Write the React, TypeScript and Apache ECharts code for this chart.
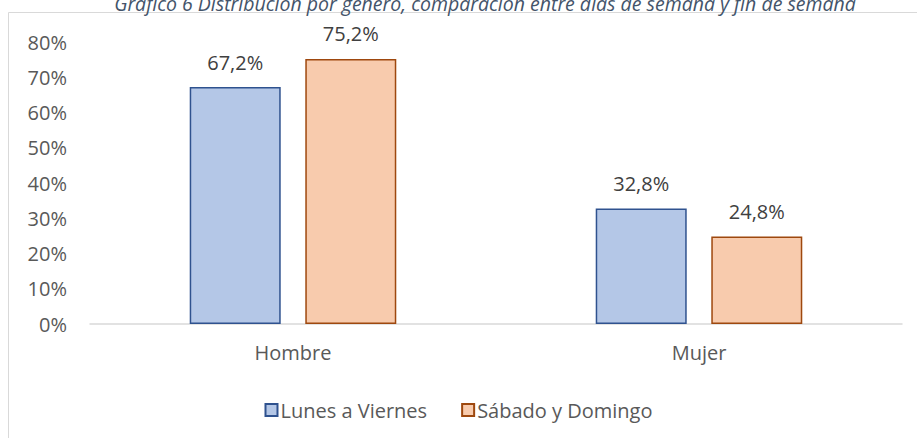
import React, { useEffect, useRef } from "react";
import * as echarts from "echarts";

const categories = ["Hombre", "Mujer"];
const seriesNames = ["Lunes a Viernes", "Sábado y Domingo"];
const weekdayValues = [67.2, 32.8];
const weekendValues = [75.2, 24.8];
const titleText = "Gráfico 6 Distribución por género, comparación entre días de semana y fin de semana";

const FONT = "'Open Sans', 'Noto Sans', sans-serif";

export default function App() {
  const ref = useRef<HTMLDivElement>(null);
  useEffect(() => {
    const chart = echarts.init(ref.current!, null, { renderer: "svg" });
    const fmt = (v: number) => v.toFixed(1).replace(".", ",") + "%";
    const labelStyle = {
      show: true,
      position: "top",
      distance: 15,
      color: "#404040",
      fontSize: 20,
      fontFamily: FONT,
      formatter: (p: any) => fmt(p.value),
    };
    chart.setOption({
      animation: false,
      backgroundColor: "#ffffff",
      graphic: [
        {
          type: "rect",
          shape: { x: 8.5, y: 12.5, width: 920, height: 440 },
          style: { fill: "none", stroke: "#D9D9D9", lineWidth: 1 },
          silent: true,
        },
        {
          type: "text",
          x: 485,
          y: 3,
          style: {
            text: titleText,
            font: `italic 19.5px ${FONT}`,
            fill: "#44546A",
            textAlign: "center",
            textVerticalAlign: "middle",
          },
        },
      ],
      grid: { left: 90, right: 15, top: 42, bottom: 114, containLabel: false },
      xAxis: {
        type: "category",
        data: categories,
        axisLine: { lineStyle: { color: "#D9D9D9", width: 1.5 } },
        axisTick: { show: false },
        axisLabel: { color: "#595959", fontSize: 20, fontFamily: FONT, margin: 18 },
      },
      yAxis: {
        type: "value",
        min: 0,
        max: 80,
        interval: 10,
        splitLine: { show: false },
        axisLine: { show: false },
        axisTick: { show: false },
        axisLabel: {
          color: "#595959",
          fontSize: 20,
          fontFamily: FONT,
          margin: 23,
          formatter: (v: number) => v + "%",
        },
      },
      legend: {
        top: 395,
        left: "center",
        itemWidth: 12,
        itemHeight: 12,
        itemGap: 34,
        icon: "rect",
        textStyle: { color: "#595959", fontSize: 20, fontFamily: FONT, padding: [0, 0, 0, -2] },
        data: seriesNames,
      },
      series: [
        {
          name: seriesNames[0],
          type: "bar",
          data: weekdayValues,
          barWidth: 91,
          barGap: "27%",
          itemStyle: { color: "#B4C7E7", borderColor: "#2F528F", borderWidth: 1.5 },
          label: labelStyle,
        },
        {
          name: seriesNames[1],
          type: "bar",
          data: weekendValues,
          barWidth: 91,
          itemStyle: { color: "#F8CBAD", borderColor: "#9E480E", borderWidth: 1.5 },
          label: labelStyle,
        },
      ],
    });
    return () => chart.dispose();
  }, []);
  return (
    <div
      ref={ref}
      style={{ position: "fixed", left: 0, top: 0, width: 917, height: 438 }}
    />
  );
}
